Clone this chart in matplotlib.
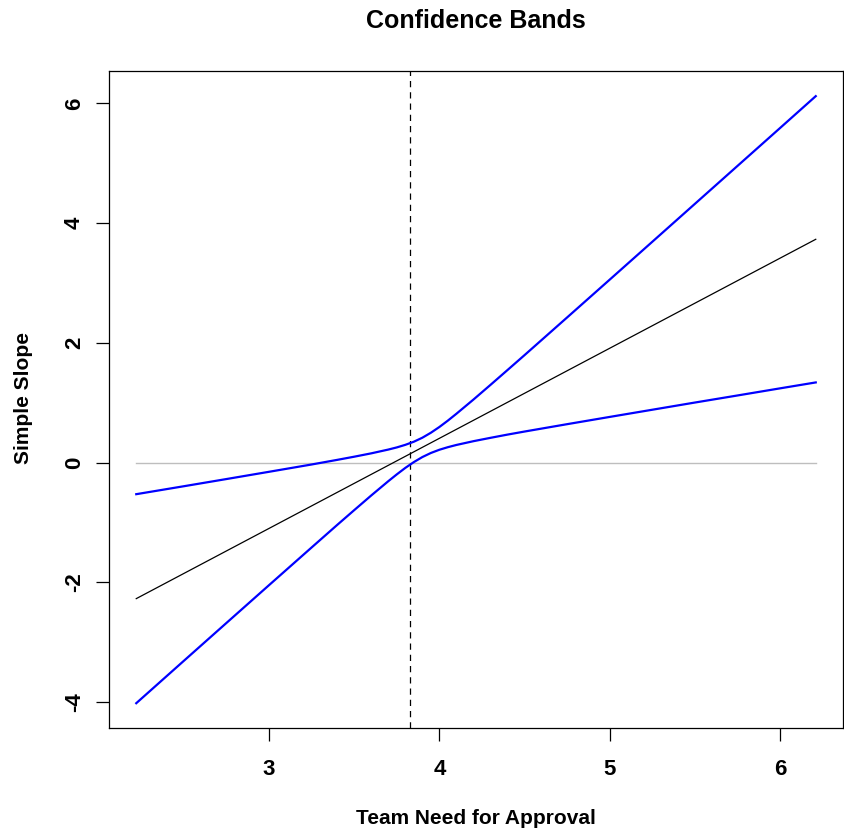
import matplotlib
matplotlib.use("Agg")
import matplotlib.pyplot as plt

# moderator values and simple slope estimates
x_mod = [2.22, 2.5, 2.75, 3.0, 3.25, 3.4, 3.5, 3.6, 3.7, 3.75, 3.8, 3.85, 3.9,
         3.95, 4.0, 4.05, 4.1, 4.2, 4.3, 4.4, 4.5, 4.75, 5.0, 5.25, 5.5, 5.75,
         6.0, 6.21]
upper = [-0.526, -0.393, -0.273, -0.152, -0.030, 0.047, 0.100, 0.156, 0.219,
         0.255, 0.298, 0.350, 0.417, 0.500, 0.596, 0.703, 0.817, 1.054, 1.299,
         1.547, 1.796, 2.425, 3.056, 3.688, 4.321, 4.954, 5.587, 6.120]
lower = [-4.016, -3.307, -2.675, -2.044, -1.415, -1.039, -0.792, -0.547,
         -0.309, -0.195, -0.087, 0.010, 0.094, 0.162, 0.216, 0.259, 0.296,
         0.359, 0.415, 0.469, 0.520, 0.643, 0.764, 0.884, 1.004, 1.122, 1.241,
         1.340]
slope_x = [2.22, 6.21]
slope_y = [-2.27, 3.73]
jn_point = 3.83

xticks = [3, 4, 5, 6]
yticks = [-4, -2, 0, 2, 4, 6]

plt.rcParams["font.family"] = ["Liberation Sans", "DejaVu Sans"]
plt.rcParams["font.weight"] = "bold"

W, H = 844, 830
fig = plt.figure(figsize=(W / 100, H / 100), dpi=100)
ax = fig.add_axes([109 / W, 102 / H, 734 / W, 657 / H])

ax.plot(slope_x, [0, 0], color="#bebebe", lw=1)
ax.axvline(jn_point, color="black", lw=0.9, ls=(0, (5, 4)))
ax.plot(slope_x, slope_y, color="black", lw=0.9)
ax.plot(x_mod, upper, color="blue", lw=1.6)
ax.plot(x_mod, lower, color="blue", lw=1.6)

ax.set_xlim(2.06, 6.37)
ax.set_ylim(-4.43, 6.54)
ax.set_xticks(xticks)
ax.set_yticks(yticks)
ax.set_xticklabels([str(t) for t in xticks], fontsize=16, fontweight="bold")
ax.set_yticklabels([str(t) for t in yticks], fontsize=16, fontweight="bold",
                   rotation=90, va="center")
ax.tick_params(axis="x", length=9.4, width=0.9, pad=13)
ax.tick_params(axis="y", length=9.4, width=0.9, pad=8)
for s in ax.spines.values():
    s.set_linewidth(0.9)

fig.text(476 / W, 1 - 28 / H, "Confidence Bands", fontsize=18,
         fontweight="bold", ha="center", va="baseline")
fig.text(476 / W, 1 - 824 / H, "Team Need for Approval", fontsize=15,
         fontweight="bold", ha="center", va="baseline")
fig.text(29 / W, 1 - 398 / H, "Simple Slope", fontsize=15,
         fontweight="bold", ha="center", va="baseline", rotation=90,
         rotation_mode="anchor")

fig.savefig("out.png", dpi=100)
